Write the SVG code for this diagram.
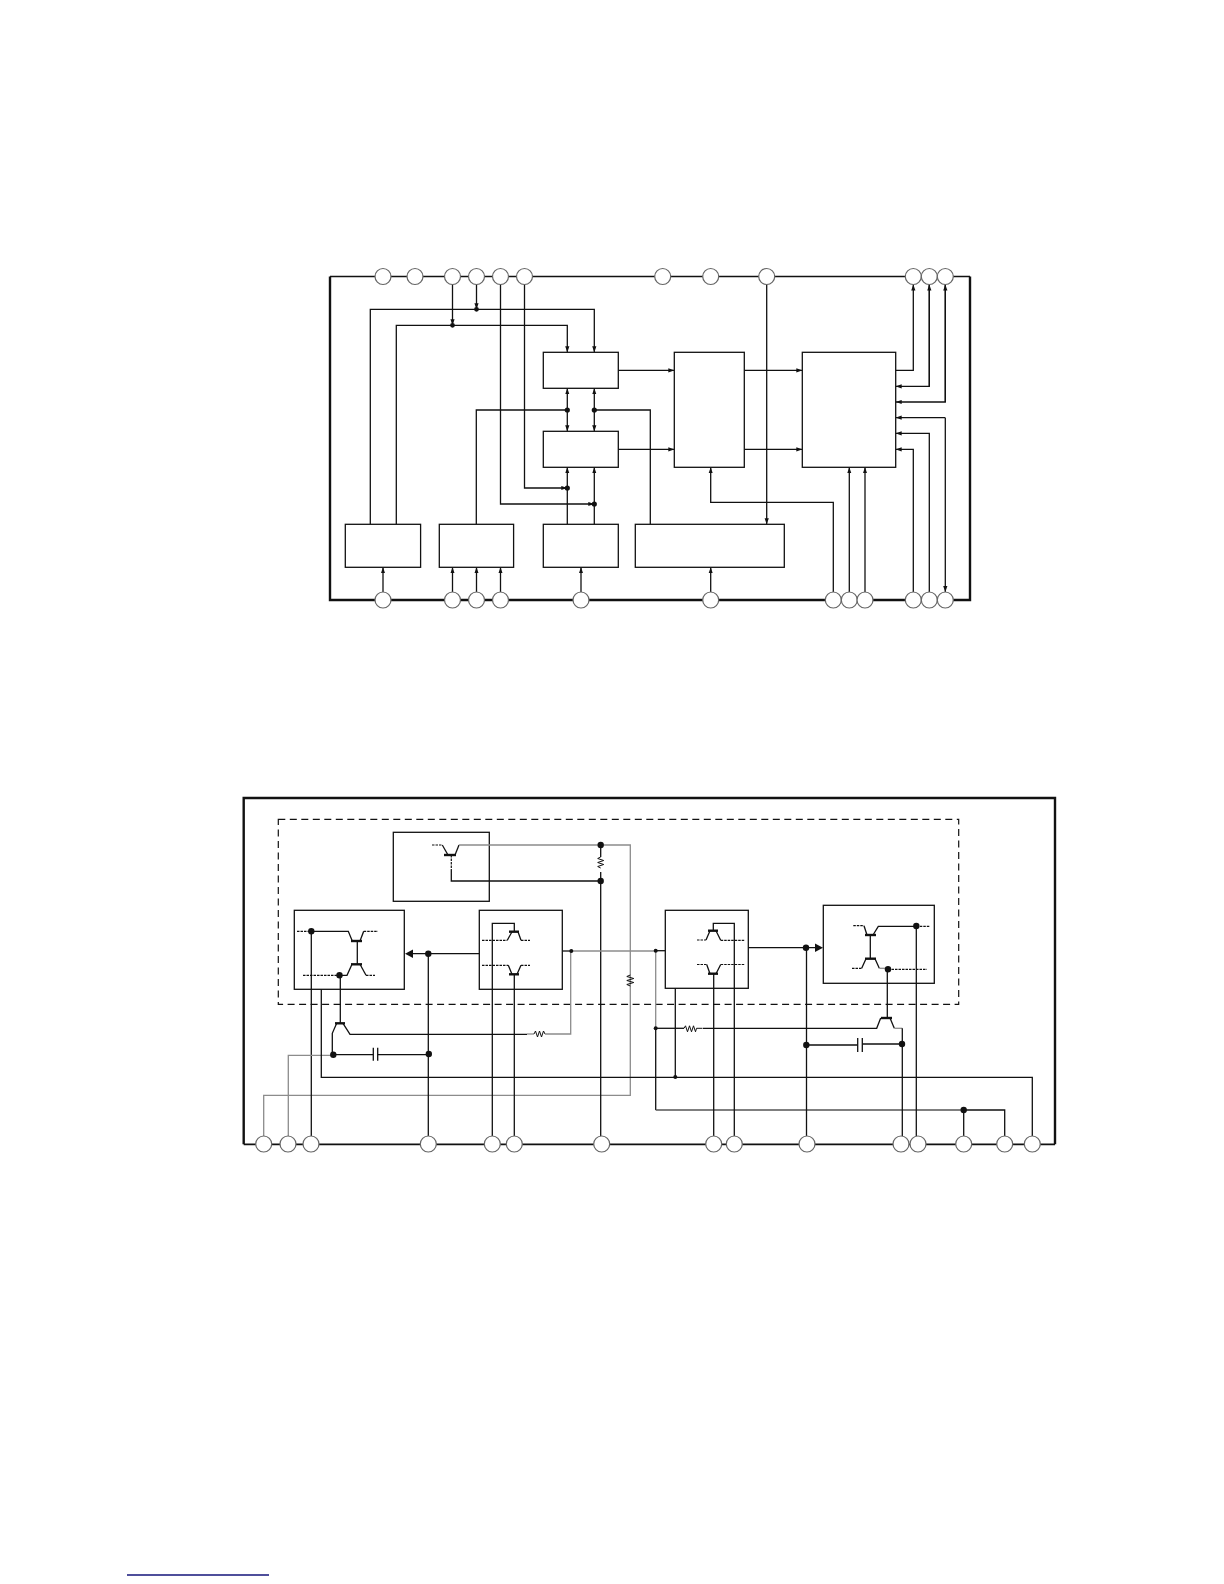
<svg xmlns="http://www.w3.org/2000/svg" width="1224" height="1584" viewBox="0 0 1224 1584">
<style>
.w{fill:none;stroke:#111;stroke-width:1.3}
.g{fill:none;stroke:#8c8c8c;stroke-width:1.3}
.dg{fill:none;stroke:#555;stroke-width:1.3}
.d{fill:none;stroke:#111;stroke-width:1.2;stroke-dasharray:2.5 1}
.b{fill:#fff;stroke:#111;stroke-width:1.3}
.n{fill:none;stroke:#111;stroke-width:1.3}
.z{fill:none;stroke:#111;stroke-width:1}
.t{fill:none;stroke:#111;stroke-width:2.4}
.h{fill:none;stroke:#111;stroke-width:1.2;stroke-dasharray:7 4.5}
.p{fill:#fff;stroke:#666;stroke-width:1.2}
.k{fill:#111}
.a{marker-end:url(#ah)}
.f{fill:none;stroke:#111;stroke-width:1.7}
.r{fill:none;stroke:#14147a;stroke-width:1.5}
</style>
<defs>
<marker id="ah" markerUnits="userSpaceOnUse" markerWidth="6" markerHeight="5" refX="6" refY="2.5" orient="auto"><path d="M0 0.4L6 2.5L0 4.6Z" fill="#111"/></marker>
</defs>
<g id="frame-top">
<path class="n" d="M330 276.5H970"/>
<path class="t" d="M330 276.5V600H970V276.5"/>
</g>
<g id="connectors-top">
<path class="w a" d="M370.3 524.3V309.3H594.3V352.3"/>
<path class="w a" d="M396.3 524.3V325.3H567.3V352.3"/>
<path class="w a" d="M452.5 284V325.3"/>
<path class="w a" d="M476.5 284V309.3"/>
<path class="w a" d="M500.5 284V504H594.3"/>
<path class="w a" d="M524.5 284V488H567.3"/>
<path class="w a" d="M567.3 524.3V467.3"/>
<path class="w a" d="M594.3 524.3V467.3"/>
<path class="w a" d="M567.3 410V388.3"/>
<path class="w a" d="M567.3 410V431.3"/>
<path class="w a" d="M594.3 410V388.3"/>
<path class="w a" d="M594.3 410V431.3"/>
<path class="w" d="M476.3 524.3V410H567.3"/>
<path class="w" d="M650.3 524.3V410H594.3"/>
<path class="w a" d="M618.3 370.3H674.3"/>
<path class="w a" d="M618.3 449.3H674.3"/>
<path class="w a" d="M744.3 370.3H802.3"/>
<path class="w a" d="M744.3 449.3H802.3"/>
<path class="w a" d="M766.7 284.5V524.3"/>
<path class="w a" d="M895.7 370.3H913.3V284.5"/>
<path class="w a" d="M929.3 284.5V386.3H895.7"/>
<path class="w a" d="M945.3 284.5V402H895.7"/>
<path class="w a" d="M945.3 417.7H895.7"/>
<path class="w a" d="M945.3 417.7V592"/>
<path class="w a" d="M929.3 592V433.3H895.7"/>
<path class="w a" d="M913.3 592V449.3H895.7"/>
<path class="w a" d="M929.3 386.3V284.5"/>
<path class="w a" d="M945.3 402V284.5"/>
<path class="w a" d="M383 592V567.3"/>
<path class="w a" d="M452.5 592V567.3"/>
<path class="w a" d="M476.5 592V567.3"/>
<path class="w a" d="M500.5 592V567.3"/>
<path class="w a" d="M581 592V567.3"/>
<path class="w a" d="M710.7 592V567.3"/>
<path class="w a" d="M833.3 592V502.3H710.7V467.3"/>
<path class="w a" d="M849.3 592V467.3"/>
<path class="w a" d="M865 592V467.3"/>
<g class="k">
<circle cx="452.5" cy="325.3" r="2.4"/><circle cx="476.5" cy="309.3" r="2.4"/>
<circle cx="567.3" cy="410" r="2.6"/><circle cx="594.3" cy="410" r="2.6"/>
<circle cx="567.3" cy="488" r="2.6"/><circle cx="594.3" cy="504" r="2.6"/>
</g>
</g>
<g id="block-a"><rect class="b" x="543.3" y="352.3" width="75" height="36"/></g>
<g id="block-b"><rect class="b" x="543.3" y="431.3" width="75" height="36"/></g>
<g id="block-c"><rect class="b" x="674.3" y="352.3" width="70" height="115"/></g>
<g id="block-d"><rect class="b" x="802.3" y="352.3" width="93.4" height="115"/></g>
<g id="block-e"><rect class="b" x="345.3" y="524.3" width="75.3" height="43"/></g>
<g id="block-f"><rect class="b" x="439.3" y="524.3" width="74.3" height="43"/></g>
<g id="block-g"><rect class="b" x="543.3" y="524.3" width="75" height="43"/></g>
<g id="block-h"><rect class="b" x="635.3" y="524.3" width="149" height="43"/></g>
<g id="pins-top">
<circle class="p" cx="383" cy="276.5" r="8"/><circle class="p" cx="415" cy="276.5" r="8"/><circle class="p" cx="452.5" cy="276.5" r="8"/><circle class="p" cx="476.5" cy="276.5" r="8"/><circle class="p" cx="500.5" cy="276.5" r="8"/><circle class="p" cx="524.5" cy="276.5" r="8"/><circle class="p" cx="662.7" cy="276.5" r="8"/><circle class="p" cx="710.7" cy="276.5" r="8"/><circle class="p" cx="766.7" cy="276.5" r="8"/><circle class="p" cx="913.3" cy="276.5" r="8"/><circle class="p" cx="929.3" cy="276.5" r="8"/><circle class="p" cx="945.3" cy="276.5" r="8"/>
<circle class="p" cx="383" cy="600" r="8"/><circle class="p" cx="452.5" cy="600" r="8"/><circle class="p" cx="476.5" cy="600" r="8"/><circle class="p" cx="500.5" cy="600" r="8"/><circle class="p" cx="581" cy="600" r="8"/><circle class="p" cx="710.7" cy="600" r="8"/><circle class="p" cx="833.3" cy="600" r="8"/><circle class="p" cx="849.3" cy="600" r="8"/><circle class="p" cx="865" cy="600" r="8"/><circle class="p" cx="913.3" cy="600" r="8"/><circle class="p" cx="929.3" cy="600" r="8"/><circle class="p" cx="945.3" cy="600" r="8"/>
</g>
<g id="frame-bottom">
<path class="t" d="M243.7 1144.3V798H1055V1144.3"/>
<path class="f" d="M243.7 1144.3H1055"/>
<rect class="h" x="278.3" y="819.3" width="680.4" height="185"/>
</g>
<g id="box-1"><rect class="n" x="393.3" y="832.3" width="96" height="69"/></g>
<g id="box-2"><rect class="n" x="294.3" y="910.3" width="110" height="79"/></g>
<g id="box-3"><rect class="n" x="479.3" y="910.3" width="83" height="79"/></g>
<g id="box-4"><rect class="n" x="665.3" y="910.3" width="83" height="78"/></g>
<g id="box-5"><rect class="n" x="823.3" y="905.3" width="111" height="78"/></g>
<g id="connectors-bottom">
<path class="d" d="M432 845H442.3"/>
<path class="w" d="M442.3 845L448 855"/>
<path class="t" d="M444 855H456"/>
<path class="w" d="M455 855L459 845"/>
<path class="g" d="M459 845H630.3V1095.3H263.7V1136"/>
<path class="d" d="M451.3 855V870"/>
<path class="w" d="M451.3 870V881H600.7"/>
<path class="w" d="M600.7 845V857M600.7 872V1136"/>
<path class="z" d="M600.7 857l-3 1.5l6 2l-6 2l6 2l-6 2l3 1.5"/>
<path class="z" d="M630.3 975l-3.5 1.5l7 2l-7 2l7 2l-7 2l3.5 1.5"/>
<path class="d" d="M297 931.3H311"/>
<path class="w" d="M311.3 931.3H348.3L352.3 941"/>
<path class="t" d="M351 941H362"/>
<path class="w" d="M360 941L363.7 931.3"/>
<path class="d" d="M363.7 931.3H378"/>
<path class="w" d="M357.3 941V964.3"/>
<path class="t" d="M351 964.3H362"/>
<path class="w" d="M352 964.3L347 975.3H339"/>
<path class="d" d="M303 975.3H339"/>
<path class="w" d="M360 964.3L366 975.3"/>
<path class="d" d="M366 975.3H375"/>
<path class="w" d="M311.3 931.3V1136"/>
<path class="w" d="M340.3 975.3V1023.3"/>
<path class="t" d="M335 1023.3H345"/>
<path class="w" d="M336.7 1023.3L332.3 1033.3V1054.7"/>
<path class="w" d="M343 1023.3L350 1034.3H527"/>
<path class="g" d="M527 1034H534"/>
<path class="z" d="M534 1034l1.5-3l2 6l2-6l2 6l2-6l1.5 3"/>
<path class="g" d="M545 1034H570.7V951"/>
<path class="w" d="M333.3 1054.7H373.3M377.7 1054.7H429"/>
<path class="w" d="M373.3 1047.7V1060.7M377.7 1047.7V1060.7"/>
<path class="g" d="M333.3 1055.3H288.3V1136"/>
<path class="w" d="M428.3 953.7V1136"/>
<path class="w" d="M479.3 953.7H412"/>
<path class="k" d="M405 953.7L413 949.5V958Z"/>
<path class="w" d="M321.3 989.3V1077.3H1032.3V1136"/>
<path class="w" d="M675.3 988.3V1077.3"/>
<path class="w" d="M492.3 1136V923.3H514.3V931.7"/>
<path class="t" d="M509 931.7H519"/>
<path class="w" d="M512 931.7L507.3 940.3M518 931.7L521 940.3"/>
<path class="d" d="M482 940.3H507.3M521 940.3H530"/>
<path class="t" d="M509 974.3H519"/>
<path class="w" d="M512 974.3L508.3 965.3M517 974.3L521 965.3"/>
<path class="d" d="M482 965.3H508.3M521 965.3H530"/>
<path class="w" d="M514.3 974.3V1136"/>
<path class="w" d="M562.3 951H571.3"/>
<path class="g" d="M571.3 951H655.7"/>
<path class="w" d="M655.7 950.7H665.3"/>
<path class="g" d="M655.7 950.7V1028.3"/>
<path class="w" d="M655.7 1028.3V1110"/>
<path class="dg" d="M655.7 1110H963.7"/>
<path class="w" d="M963.7 1110H1004.7V1136M963.7 1110V1136"/>
<path class="w" d="M655.7 1028.3H684"/>
<path class="z" d="M684 1028.3l1.5-2.5l2 6l2-6l2 6l2-6l2 6l1-3.5h6"/>
<path class="w" d="M703 1028.3H876.7L880.7 1018"/>
<path class="t" d="M881 1018H892"/>
<path class="w" d="M890 1018L894.3 1028.3"/>
<path class="g" d="M894.3 1028.3H902.3"/>
<path class="w" d="M902.3 1028.3V1136"/>
<path class="w" d="M887.3 1018V969.3"/>
<path class="w" d="M806.3 1045H857.7M862.3 1044H902"/>
<path class="w" d="M857.7 1038V1052M862.3 1038V1052"/>
<path class="w" d="M806.5 947.7V1136"/>
<path class="w" d="M748.3 947.7H816"/>
<path class="k" d="M823 947.7L815 943.5V952Z"/>
<path class="w" d="M734.3 1136V923.3H713.3V930.7"/>
<path class="t" d="M708 930.7H718"/>
<path class="w" d="M710 930.7L706 940M716 930.7L720.7 940.3"/>
<path class="d" d="M697 940H706M720.7 940.3H745"/>
<path class="t" d="M708 973.7H718"/>
<path class="w" d="M710 973.7L706.7 964.5M716 973.7L720.7 964.5"/>
<path class="d" d="M697 964.5H706.7M720.7 964.5H745"/>
<path class="w" d="M713.7 973.7V1136"/>
<path class="d" d="M853.3 925.7H864"/>
<path class="w" d="M864 925.7L867 935"/>
<path class="t" d="M865 935H876"/>
<path class="w" d="M873 935L878.3 926.3H916.3"/>
<path class="d" d="M916.3 926.3H930"/>
<path class="w" d="M870.3 935V958.7"/>
<path class="t" d="M865 958.7H876"/>
<path class="w" d="M866 958.7L861.7 968.3M875 958.7L879.3 968.3"/>
<path class="d" d="M852 968.3H861.7M888 969.3H927"/>
<path class="g" d="M879.3 968.3H888"/>
<path class="w" d="M916.3 926.3V1136"/>
<g class="k">
<circle cx="311.3" cy="931.3" r="3.2"/><circle cx="339.5" cy="975.3" r="3.2"/><circle cx="333.3" cy="1054.7" r="3.2"/><circle cx="428.8" cy="1054" r="3.2"/><circle cx="428.3" cy="953.7" r="3.2"/>
<circle cx="600.7" cy="845" r="3.2"/><circle cx="600.7" cy="881" r="3.2"/>
<circle cx="571.3" cy="951" r="2"/><circle cx="655.7" cy="950.7" r="2"/><circle cx="655.7" cy="1028.3" r="2"/><circle cx="675.3" cy="1077" r="2"/>
<circle cx="806" cy="947.7" r="3.2"/><circle cx="806.3" cy="1045" r="3.2"/><circle cx="902" cy="1044" r="3.2"/><circle cx="888" cy="969.3" r="3.2"/><circle cx="916.3" cy="926" r="3.2"/><circle cx="963.7" cy="1110" r="3.2"/>
</g>
</g>
<g id="pins-bottom">
<circle class="p" cx="263.7" cy="1144" r="8"/><circle class="p" cx="288" cy="1144" r="8"/><circle class="p" cx="311" cy="1144" r="8"/><circle class="p" cx="428.3" cy="1144" r="8"/><circle class="p" cx="492.3" cy="1144" r="8"/><circle class="p" cx="514.3" cy="1144" r="8"/><circle class="p" cx="601.7" cy="1144" r="8"/><circle class="p" cx="713.7" cy="1144" r="8"/><circle class="p" cx="734.3" cy="1144" r="8"/><circle class="p" cx="807" cy="1144" r="8"/><circle class="p" cx="901" cy="1144" r="8"/><circle class="p" cx="918" cy="1144" r="8"/><circle class="p" cx="963.7" cy="1144" r="8"/><circle class="p" cx="1004.7" cy="1144" r="8"/><circle class="p" cx="1032.3" cy="1144" r="8"/>
</g>
<path id="footer-rule" class="r" d="M127 1575H269"/>
</svg>
